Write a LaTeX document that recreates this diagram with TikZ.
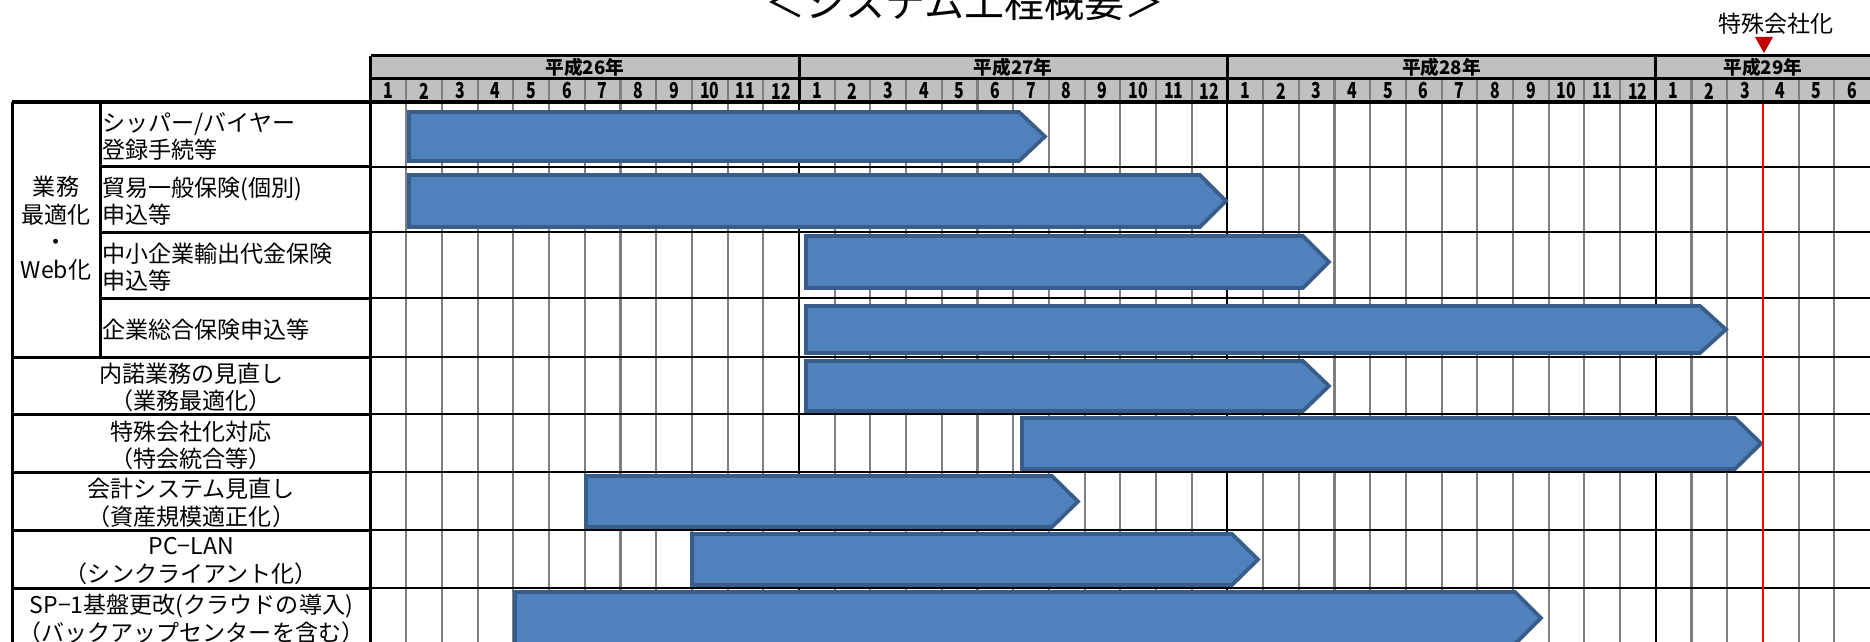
\documentclass[tikz,border=0pt]{standalone}
\usepackage{fontspec}
\setmainfont{Noto Sans CJK JP}
\usepackage{graphicx}
\definecolor{barfill}{HTML}{4F81BD}
\definecolor{barline}{HTML}{385D8A}
\definecolor{hdrgray}{HTML}{C0C0C0}
\definecolor{mgray}{HTML}{7F7F7F}
\definecolor{tri}{HTML}{C00000}
\newcommand\cnd[1]{\scalebox{0.72}[1]{#1}}
\newcommand\gbar[4]{\filldraw[barst] (#1,#3) -- ({#2-26},#3) -- (#2,{(#3+#4)/2}) -- ({#2-26},#4) -- (#1,#4) -- cycle;}
\begin{document}
\begin{tikzpicture}[x=0.75pt,y=-0.75pt,
  lbl/.style={font=\fontsize{17.3pt}{20.6pt}\selectfont,inner sep=0pt},
  hdr/.style={font=\bfseries\fontsize{14pt}{16pt}\selectfont,inner sep=0pt},
  mon/.style={font=\bfseries\fontsize{16.5pt}{17pt}\selectfont,inner sep=0pt},
  thickln/.style={line width=2.25pt,black},
  bodyln/.style={line width=1.5pt,black},
  mline/.style={line width=1.6pt,mgray},
  redln/.style={line width=1.6pt,red},
  barst/.style={fill=barfill,draw=barline,line width=2.8pt,line join=miter}]
\useasboundingbox (0,0) rectangle (1870,642);
\clip (0,0) rectangle (1870,642);
% header background
\fill[hdrgray] (370.6,56) rectangle (1875,102);
% month lines
\foreach \i in {1,...,41}{
  \draw[mline] ({370.6+\i*35.7},79) -- ({370.6+\i*35.7},650);
}
% body horizontal lines
\foreach \y in {166.5,232,298,357,414.3,472,530,588}{
  \draw[bodyln] (370.6,\y) -- (1875,\y);
}
% year boundaries
\foreach \i in {12,24,36}{
  \draw[thickln] ({370.6+\i*35.7},56) -- ({370.6+\i*35.7},102);
  \draw[bodyln] ({370.6+\i*35.7},102) -- ({370.6+\i*35.7},650);
}
% bars
\gbar{409}{1045}{112}{161}
\gbar{409}{1226}{175}{227}
\gbar{806}{1329}{236}{288}
\gbar{806}{1726}{306}{353}
\gbar{806}{1329}{361}{411}
\gbar{1022}{1761}{418}{469}
\gbar{586}{1078}{476}{527}
\gbar{692}{1258}{534}{585}
\gbar{515}{1541}{592}{644}
% red line
\draw[redln] (1763.3,102) -- (1763.3,650);
% header lines
\draw[thickln] (370.6,56) -- (1875,56);
\draw[thickln] (370.6,79) -- (1875,79);
\draw[thickln] (12,102) -- (1875,102);
\draw[thickln] (370.6,56) -- (370.6,650);
% left table
\draw[thickln] (12,102) -- (12,650);
\draw[thickln] (100,102) -- (100,357);
\foreach \y in {166.5,232,298}{\draw[thickln] (100,\y) -- (370.6,\y);}
\foreach \y in {357,414.3,472,530,588}{\draw[thickln] (12,\y) -- (370.6,\y);}
% header text
\node[hdr] (y26) at (584.8,67.8) {平成26年};
\node[hdr] (y27) at (1013.2,67.8) {平成27年};
\node[hdr] (y28) at (1441.6,67.8) {平成28年};
\node[hdr] (y29) at (1763,67.8) {平成29年};
\foreach \i in {0,...,41}{
  \pgfmathtruncatemacro\m{mod(\i,12)+1}
  \node[mon] (m\i) at ({370.6+(\i+0.5)*35.7},91) {\cnd{\m}};
}
% title and marker
\node[font=\fontsize{30pt}{32pt}\selectfont,inner sep=0pt] (title) at (965,2) {＜システム工程概要＞};
\node[lbl] (mark) at (1776,24) {特殊会社化};
\fill[tri] (1755,37) -- (1773,37) -- (1764,53) -- cycle;
% row labels
\node[lbl,align=center] (grp) at (56,228) {業務\\最適化\\・\\Web化};
\node[lbl,anchor=west,align=left] (r1) at (102,136.3) {シッパー/バイヤー\\登録手続等};
\node[lbl,anchor=west,align=left] (r2) at (102,201.3) {貿易一般保険(個別)\\申込等};
\node[lbl,anchor=west,align=left] (r3) at (102,267) {中小企業輸出代金保険\\申込等};
\node[lbl,anchor=west] (r4) at (102,329.5) {企業総合保険申込等};
\node[lbl,align=center] (r5) at (191.3,387.6) {内諾業務の見直し\\（業務最適化）};
\node[lbl,align=center] (r6) at (191.3,445.2) {特殊会社化対応\\（特会統合等）};
\node[lbl,align=center] (r7) at (191.3,503) {会計システム見直し\\（資産規模適正化）};
\node[lbl,align=center] (r8) at (191.3,561) {PC−LAN\\（シンクライアント化）};
\node[lbl,align=center] (r9) at (191.3,619) {SP−1基盤更改(クラウドの導入)\\（バックアップセンターを含む）};
\end{tikzpicture}
\end{document}
